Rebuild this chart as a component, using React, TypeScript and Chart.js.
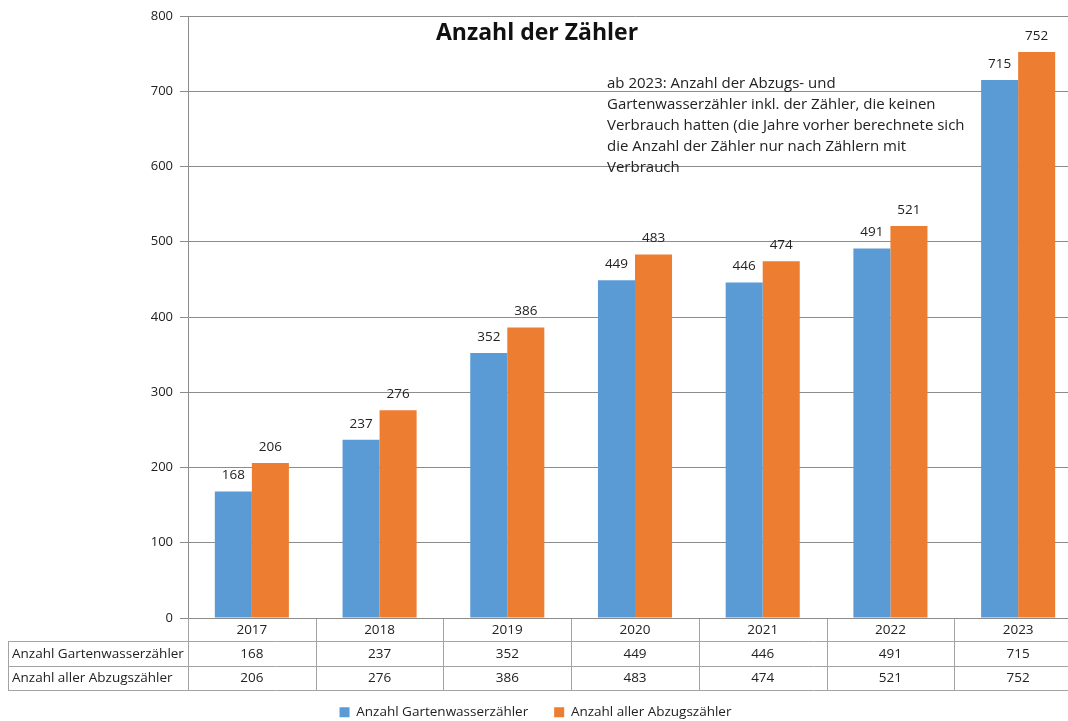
import { useEffect, useRef } from "react";
import { Chart, registerables } from "chart.js";

Chart.register(...registerables);

// ---- data ----
const years = ["2017", "2018", "2019", "2020", "2021", "2022", "2023"];
const gartenwasserzaehler = [168, 237, 352, 449, 446, 491, 715];
const abzugszaehler = [206, 276, 386, 483, 474, 521, 752];
const seriesNames = ["Anzahl Gartenwasserzähler", "Anzahl aller Abzugszähler"];
const chartTitle = "Anzahl der Zähler";
const noteLines = [
  "ab 2023: Anzahl der Abzugs- und",
  "Gartenwasserzähler inkl. der Zähler, die keinen",
  "Verbrauch hatten (die Jahre vorher berechnete sich",
  "die Anzahl der Zähler nur nach Zählern mit",
  "Verbrauch",
];
const yMin = 0;
const yMax = 800;
const yStep = 100;

// ---- style ----
const OFF = 11; // canvas shifted left (page is cropped on the right like the reference)
const CW = 1093;
const CH = 729;
const FONT = "'Open Sans', sans-serif";
const BLUE = "#5B9BD5";
const ORANGE = "#ED7D31";
const GRID = "#8c8c8c";
const TABLE = "#a3a3a3";
const TEXT = "#222222";

const tablePlugin = {
  id: "excelTable",
  afterDatasetsDraw(chart: any) {
    const ctx = chart.ctx;
    ctx.save();
    ctx.font = `13.5px ${FONT}`;
    ctx.fillStyle = TEXT;
    ctx.textAlign = "center";
    ctx.textBaseline = "middle";
    chart.data.datasets.forEach((ds: any, di: number) => {
      const meta = chart.getDatasetMeta(di);
      meta.data.forEach((el: any, i: number) => {
        ctx.fillText(String(ds.data[i]), el.x, el.y - 16);
      });
    });
    ctx.restore();
  },
  afterDraw(chart: any) {
    const ctx = chart.ctx;
    const xs = chart.scales.x;
    const ca = chart.chartArea;
    const n = chart.data.labels.length;
    const catW = (xs.right - xs.left) / n;
    const y0 = ca.bottom;
    const r1 = y0 + 23;
    const r2 = y0 + 48;
    const r3 = y0 + 72;
    const L = OFF + 8;
    const R = xs.right;
    const px = (v: number) => Math.round(v) + 0.5;
    ctx.save();
    ctx.strokeStyle = TABLE;
    ctx.lineWidth = 1;
    const line = (x1: number, y1: number, x2: number, y2: number) => {
      ctx.beginPath();
      ctx.moveTo(x1, y1);
      ctx.lineTo(x2, y2);
      ctx.stroke();
    };
    [r1, r2, r3].forEach((yy) => line(L, px(yy), R, px(yy)));
    for (let i = 0; i <= n; i++) {
      const bx = px(xs.left + i * catW);
      line(bx, i === 0 ? y0 : y0 + 1, bx, px(r3));
    }
    line(px(L), px(r1), px(L), px(r3));

    ctx.font = `13.5px ${FONT}`;
    ctx.fillStyle = TEXT;
    ctx.textBaseline = "middle";
    const rows = [
      { name: seriesNames[0], values: gartenwasserzaehler, y: (r1 + r2) / 2 },
      { name: seriesNames[1], values: abzugszaehler, y: (r2 + r3) / 2 },
    ];
    rows.forEach((row) => {
      ctx.textAlign = "left";
      ctx.fillText(row.name, OFF + 12, row.y + 0.5);
      ctx.textAlign = "center";
      row.values.forEach((v, i) => {
        ctx.fillText(String(v), xs.getPixelForValue(i), row.y + 0.5);
      });
    });

    // title
    ctx.font = `bold 23px ${FONT}`;
    ctx.fillStyle = "#111111";
    ctx.textAlign = "center";
    ctx.textBaseline = "alphabetic";
    ctx.fillText(chartTitle, OFF + 537, 40);

    // note
    ctx.font = `15px ${FONT}`;
    ctx.fillStyle = TEXT;
    ctx.textAlign = "left";
    ctx.textBaseline = "middle";
    noteLines.forEach((t, i) => {
      ctx.fillText(t, OFF + 607, 84 + i * 21);
    });
    ctx.restore();
  },
};

export default function App() {
  const canvasRef = useRef<HTMLCanvasElement | null>(null);

  useEffect(() => {
    const canvas = canvasRef.current;
    if (!canvas) return;
    const chart = new Chart(canvas, {
      type: "bar",
      data: {
        labels: years,
        datasets: [
          {
            label: seriesNames[0],
            data: gartenwasserzaehler,
            backgroundColor: BLUE,
            categoryPercentage: 0.58,
            barPercentage: 1,
          },
          {
            label: seriesNames[1],
            data: abzugszaehler,
            backgroundColor: ORANGE,
            categoryPercentage: 0.58,
            barPercentage: 1,
          },
        ],
      },
      options: {
        responsive: false,
        animation: false,
        devicePixelRatio: 1,
        layout: { padding: { top: 16, left: 0, right: 0, bottom: 0 } },
        plugins: {
          legend: {
            position: "bottom",
            labels: {
              boxWidth: 10,
              boxHeight: 10,
              padding: 26,
              color: TEXT,
              font: { family: FONT, size: 13.5 },
            },
          },
          tooltip: { enabled: false },
          title: { display: false },
        },
        scales: {
          x: {
            grid: { display: false, drawTicks: false },
            border: { display: true, color: GRID },
            ticks: { color: TEXT, font: { family: FONT, size: 13.5 }, padding: 4 },
            afterFit: (s: any) => {
              s.height = 61.5;
            },
          },
          y: {
            min: yMin,
            max: yMax,
            ticks: {
              stepSize: yStep,
              color: TEXT,
              font: { family: FONT, size: 13 },
              padding: 7,
            },
            grid: { color: GRID, tickLength: 8 },
            border: { display: true, color: GRID },
            afterFit: (s: any) => {
              s.width = OFF + 188;
            },
          },
        },
      },
      plugins: [tablePlugin],
    });
    return () => chart.destroy();
  }, []);

  return (
    <div
      style={{
        position: "fixed",
        left: 0,
        top: 0,
        width: 1068,
        height: 721,
        overflow: "hidden",
        background: "#ffffff",
      }}
    >
      <canvas
        ref={canvasRef}
        width={CW}
        height={CH}
        style={{ position: "absolute", left: -OFF, top: 0, width: CW, height: CH }}
      />
    </div>
  );
}
